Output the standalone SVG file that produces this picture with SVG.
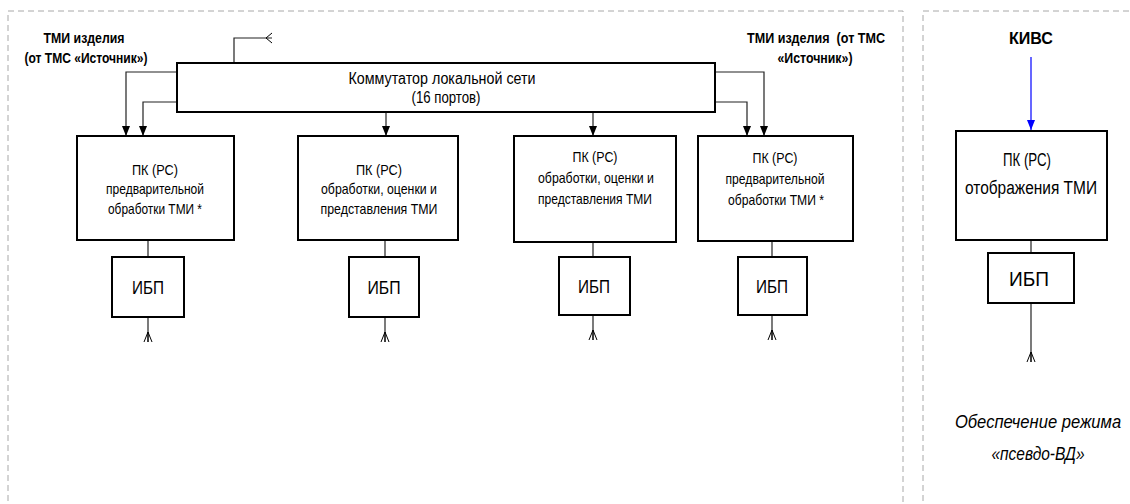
<svg xmlns="http://www.w3.org/2000/svg" xmlns:xlink="http://www.w3.org/1999/xlink" width="1130" height="504" viewBox="0 0 1130 504">
<style>
.region{fill:none;stroke:#a8a8a8;stroke-width:1;stroke-dasharray:6,4}
.box{fill:#fff;stroke:#000;stroke-width:2}
.ln{fill:none;stroke:#222;stroke-width:1.2}
.blue{fill:none;stroke:#0000ff;stroke-width:1.2}
.fork{fill:none;stroke:#000;stroke-width:1}
text{font-family:"Liberation Sans",Arial,sans-serif;fill:#000;text-anchor:middle}
.t{font-size:15px}
.sw{font-size:16px}
.ibp{font-size:18px}
.hdr{font-size:14px;font-weight:bold}
.kivs{font-size:17px;font-weight:bold}
.it{font-size:18px;font-style:italic}
</style>
<defs>
<marker id="ah" viewBox="0 0 10 10" refX="10" refY="5" markerWidth="10" markerHeight="10" markerUnits="userSpaceOnUse" orient="auto">
<path d="M0,1 L10,5 L0,9 Z" fill="#000"/>
</marker>
<marker id="ahb" viewBox="0 0 10 10" refX="10" refY="5" markerWidth="10" markerHeight="10" markerUnits="userSpaceOnUse" orient="auto">
<path d="M0,1 L10,5 L0,9 Z" fill="#0000ff"/>
</marker>
<path id="forkUp" class="fork" d="M-4,10 L0,0 L4,10 M0,0 L0,10"/>
</defs>

<rect class="region" x="8" y="11" width="895" height="510"/>
<rect class="region" x="923" y="11" width="220" height="510"/>

<g id="connectors">
<path class="ln" d="M234,63 V38 H272"/>
<path class="fork" d="M266,38 L272,33 M266,38 L272,43"/>
<path class="ln" d="M177,72 H126 V136" marker-end="url(#ah)"/>
<path class="ln" d="M177,102 H143 V136" marker-end="url(#ah)"/>
<path class="ln" d="M715,72 H764 V136" marker-end="url(#ah)"/>
<path class="ln" d="M715,102 H747 V136" marker-end="url(#ah)"/>
<path class="ln" d="M386,112 V136" marker-end="url(#ah)"/>
<path class="ln" d="M593,112 V136" marker-end="url(#ah)"/>
<path class="blue" d="M1031,57 V130" marker-end="url(#ahb)"/>
<path class="ln" d="M148,240 V257"/>
<path class="ln" d="M385,240 V257"/>
<path class="ln" d="M593,242 V257"/>
<path class="ln" d="M772,241 V257"/>
<path class="ln" d="M1031,240 V253"/>
<path class="ln" d="M148,317 V342"/>
<path class="ln" d="M385,317 V342"/>
<path class="ln" d="M593,315 V340"/>
<path class="ln" d="M772,315 V340"/>
<path class="ln" d="M1031,303 V362"/>
<use xlink:href="#forkUp" x="148" y="332"/>
<use xlink:href="#forkUp" x="385" y="332"/>
<use xlink:href="#forkUp" x="593" y="330"/>
<use xlink:href="#forkUp" x="772" y="330"/>
<use xlink:href="#forkUp" x="1031" y="352"/>
</g>

<g id="label-left">
<text class="hdr" x="84" y="43" textLength="81" lengthAdjust="spacingAndGlyphs">ТМИ изделия</text>
<text class="hdr" x="86" y="63" textLength="123" lengthAdjust="spacingAndGlyphs">(от ТМС «Источник»)</text>
</g>
<g id="label-right">
<text class="hdr" x="816" y="43" textLength="138" lengthAdjust="spacingAndGlyphs" xml:space="preserve">ТМИ изделия  (от ТМС</text>
<text class="hdr" x="815" y="63" textLength="75" lengthAdjust="spacingAndGlyphs">«Источник»)</text>
</g>
<g id="label-kivs">
<text class="kivs" x="1031" y="44" textLength="44" lengthAdjust="spacingAndGlyphs">КИВС</text>
</g>

<g id="switch">
<rect class="box" x="177" y="63" width="538" height="49"/>
<text class="sw" x="442" y="84" textLength="187" lengthAdjust="spacingAndGlyphs">Коммутатор локальной сети</text>
<text class="sw" x="446" y="103" textLength="69" lengthAdjust="spacingAndGlyphs">(16 портов)</text>
</g>

<g id="pc1">
<rect class="box" x="77" y="136" width="157" height="104"/>
<text class="t" x="155" y="175" textLength="46" lengthAdjust="spacingAndGlyphs">ПК (РС)</text>
<text class="t" x="155" y="194" textLength="98" lengthAdjust="spacingAndGlyphs">предварительной</text>
<text class="t" x="155" y="214" textLength="94" lengthAdjust="spacingAndGlyphs">обработки ТМИ *</text>
</g>
<g id="pc2">
<rect class="box" x="298" y="136" width="160" height="104"/>
<text class="t" x="379" y="175" textLength="46" lengthAdjust="spacingAndGlyphs">ПК (РС)</text>
<text class="t" x="379" y="194" textLength="116" lengthAdjust="spacingAndGlyphs">обработки, оценки и</text>
<text class="t" x="379" y="214" textLength="117" lengthAdjust="spacingAndGlyphs">представления ТМИ</text>
</g>
<g id="pc3">
<rect class="box" x="514" y="136" width="162" height="106"/>
<text class="t" x="595" y="162" textLength="45" lengthAdjust="spacingAndGlyphs">ПК (РС)</text>
<text class="t" x="596" y="183" textLength="116" lengthAdjust="spacingAndGlyphs">обработки, оценки и</text>
<text class="t" x="595" y="204" textLength="114" lengthAdjust="spacingAndGlyphs">представления ТМИ</text>
</g>
<g id="pc4">
<rect class="box" x="698" y="136" width="155" height="105"/>
<text class="t" x="775" y="163" textLength="45" lengthAdjust="spacingAndGlyphs">ПК (РС)</text>
<text class="t" x="775" y="184" textLength="99" lengthAdjust="spacingAndGlyphs">предварительной</text>
<text class="t" x="776" y="205" textLength="96" lengthAdjust="spacingAndGlyphs">обработки ТМИ *</text>
</g>
<g id="pc5">
<rect class="box" x="956" y="131" width="151" height="109"/>
<text class="ibp" x="1027" y="166" textLength="48" lengthAdjust="spacingAndGlyphs">ПК (РС)</text>
<text class="ibp" x="1031" y="194" textLength="132" lengthAdjust="spacingAndGlyphs">отображения ТМИ</text>
</g>

<g id="ups1"><rect class="box" x="112" y="257" width="72" height="60"/><text class="ibp" x="148" y="294" textLength="32" lengthAdjust="spacingAndGlyphs">ИБП</text></g>
<g id="ups2"><rect class="box" x="349" y="257" width="70" height="60"/><text class="ibp" x="384" y="294" textLength="33" lengthAdjust="spacingAndGlyphs">ИБП</text></g>
<g id="ups3"><rect class="box" x="559" y="257" width="71" height="58"/><text class="ibp" x="594" y="293" textLength="32" lengthAdjust="spacingAndGlyphs">ИБП</text></g>
<g id="ups4"><rect class="box" x="738" y="257" width="69" height="58"/><text class="ibp" x="772" y="293" textLength="32" lengthAdjust="spacingAndGlyphs">ИБП</text></g>
<g id="ups5"><rect class="box" x="988" y="253" width="86" height="50"/><text class="ibp" x="1029" y="286" style="font-size:21px" textLength="40" lengthAdjust="spacingAndGlyphs">ИБП</text></g>

<g id="note">
<text class="it" transform="translate(1038,428) scale(0.87,1)" x="0" y="0" textLength="191" lengthAdjust="spacingAndGlyphs">Обеспечение режима</text>
<text class="it" transform="translate(1038,460) scale(0.87,1)" x="0" y="0" textLength="107" lengthAdjust="spacingAndGlyphs">«псевдо-ВД»</text>
</g>
</svg>
